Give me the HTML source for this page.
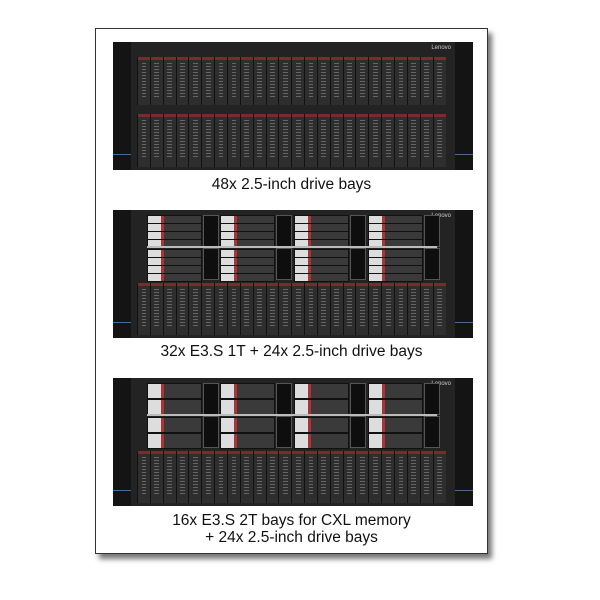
<!DOCTYPE html>
<html><head><style>
body{margin:0;width:600px;height:600px;background:#fff;position:relative;overflow:hidden;font-family:"Liberation Sans",sans-serif}
#frame{position:absolute;left:95px;top:28px;width:391px;height:524px;border:1px solid #333;background:#fff;box-shadow:4px 5px 5px #777}
.srv{position:absolute;left:113px;width:360px;height:128px;background:#232323}
.ear{position:absolute;top:0;width:18px;height:128px;background:#141414}
.cap{position:absolute;left:95px;width:393px;text-align:center;font-size:15.5px;color:#111;line-height:17px}
.d{position:absolute;background:#2e2e2e;border-left:1px solid #111}
.d:before{content:"";position:absolute;left:0;right:0;top:0;height:3px;background:#7a2b2b}
.d:after{content:"";position:absolute;left:30%;width:40%;top:12%;height:72%;background:repeating-linear-gradient(#666 0 1px,#2e2e2e 1px 3px)}
.e{position:absolute;background:#3a3a3a;border:1px solid #111}
.e:before{content:"";position:absolute;left:0;top:0;bottom:0;width:24%;background:#ddd;border-right:3px solid #a33}
.m{position:absolute;background:#0e0e0e;border:1px solid #555}
.bar{position:absolute;height:2px;background:#bbb}
.logo{position:absolute;color:#ccc;font-size:6px}
.blue{position:absolute;height:1px;background:#4a6a9a;width:18px}
</style></head><body>
<div id="frame"></div>
<div class="srv" id="s1" style="top:42px"></div>
<div class="srv" id="s2" style="top:210px"></div>
<div class="srv" id="s3" style="top:378px"></div>
<div class="cap" style="top:176px">48x 2.5-inch drive bays</div>
<div class="cap" style="top:343px">32x E3.S 1T + 24x 2.5-inch drive bays</div>
<div class="cap" style="top:512px">16x E3.S 2T bays for CXL memory<br>+ 24x 2.5-inch drive bays</div>
<script>
function add(p,cls,st){var d=document.createElement('div');d.className=cls;d.setAttribute('style',st);p.appendChild(d);return d;}
['s1','s2','s3'].forEach(function(id,i){
 var s=document.getElementById(id);
 add(s,'ear','left:0');add(s,'ear','right:0');
 add(s,'blue','left:0;top:112px');add(s,'blue','right:0;top:112px');
 var l=add(s,'logo','right:22px;top:3px');l.textContent='Lenovo';
 function row(y,h){for(var k=0;k<24;k++)add(s,'d','left:'+(24+k*12.85)+'px;top:'+y+'px;width:12px;height:'+h+'px');}
 if(i==0){row(15,48);row(72,53);}
 else{
  row(73,52);
  var gx=[34,107,181,255];
  gx.forEach(function(x,g){
   var n=i==1?8:4,h=i==1?7.5:15;
   for(var r=0;r<n;r++){var y=5+r*(64/n)+(r>=n/2?2:0);add(s,'e','left:'+x+'px;top:'+y+'px;width:53px;height:'+(h-1)+'px');}
   add(s,'m','left:'+(x+56)+'px;top:5px;width:14px;height:30px');
   add(s,'m','left:'+(x+56)+'px;top:38px;width:14px;height:30px');
  });
  add(s,'bar','left:34px;top:36px;width:290px');
 }
});
</script>
</body></html>
